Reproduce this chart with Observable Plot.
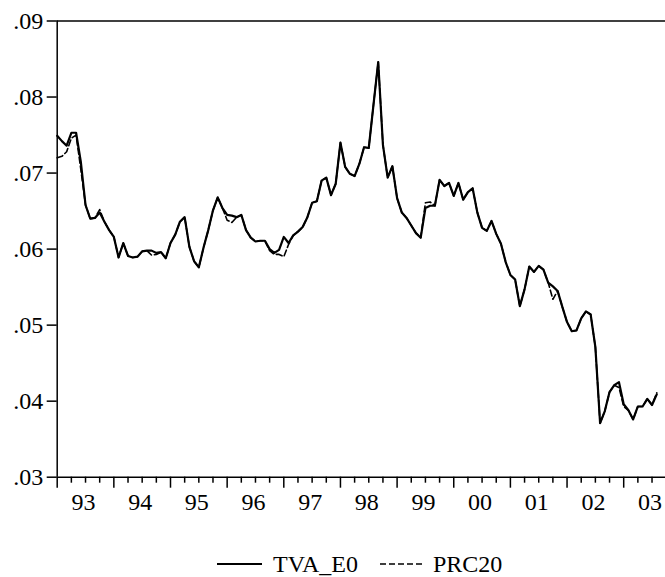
<!DOCTYPE html>
<html><head><meta charset="utf-8">
<script src="https://cdn.jsdelivr.net/npm/d3@7"></script>
<script src="https://cdn.jsdelivr.net/npm/@observablehq/plot@0.6"></script>
<style>
body{margin:0;background:#fff;}
#wrap{position:relative;width:665px;height:577px;background:#fff;font-family:"Liberation Serif","Times New Roman",serif;}
#legend{position:absolute;top:548px;left:217px;display:flex;align-items:center;font-size:24px;color:#000;line-height:32px;}
#legend svg{display:block;}
</style></head>
<body><div id="wrap"><div id="chart"></div><div id="legend"></div></div>
<script>
// Monthly series, 1993:01 – 2003:08
const startYear = 1993;
const seriesNames = ["TVA_E0", "PRC20"];
const tva = [
  0.0749,0.0742,0.0736,0.0753,0.0753,0.0715,0.0658,0.0640,0.0641,0.0648,0.0636,0.0625,
  0.0616,0.0589,0.0608,0.0591,0.0589,0.0590,0.0597,0.0598,0.0598,0.0595,0.0596,0.0588,
  0.0608,0.0619,0.0636,0.0642,0.0603,0.0584,0.0576,0.0602,0.0625,0.0651,0.0668,0.0654,
  0.0645,0.0644,0.0642,0.0645,0.0625,0.0615,0.0610,0.0611,0.0611,0.0600,0.0595,0.0599,
  0.0616,0.0608,0.0618,0.0623,0.0629,0.0642,0.0661,0.0663,0.0690,0.0694,0.0671,0.0686,
  0.0740,0.0708,0.0699,0.0696,0.0712,0.0734,0.0733,0.0790,0.0846,0.0737,0.0694,0.0709,
  0.0667,0.0648,0.0641,0.0631,0.0621,0.0615,0.0654,0.0657,0.0657,0.0691,0.0683,0.0687,
  0.0670,0.0687,0.0665,0.0675,0.0680,0.0648,0.0628,0.0624,0.0637,0.0620,0.0607,0.0583,
  0.0566,0.0560,0.0525,0.0547,0.0577,0.0570,0.0578,0.0573,0.0556,0.0551,0.0545,0.0524,
  0.0504,0.0492,0.0493,0.0509,0.0518,0.0514,0.0471,0.0371,0.0387,0.0412,0.0421,0.0425,
  0.0396,0.0388,0.0376,0.0393,0.0393,0.0403,0.0395,0.0409
];
const prc = [
  0.0720,0.0722,0.0728,0.0746,0.0750,0.0705,0.0658,0.0640,0.0641,0.0652,0.0636,0.0625,
  0.0616,0.0589,0.0608,0.0591,0.0589,0.0590,0.0597,0.0598,0.0592,0.0593,0.0596,0.0588,
  0.0608,0.0619,0.0636,0.0642,0.0603,0.0584,0.0576,0.0602,0.0625,0.0651,0.0668,0.0654,
  0.0638,0.0635,0.0642,0.0645,0.0625,0.0615,0.0610,0.0611,0.0611,0.0598,0.0593,0.0593,
  0.0590,0.0606,0.0618,0.0623,0.0629,0.0642,0.0661,0.0663,0.0690,0.0694,0.0671,0.0686,
  0.0740,0.0708,0.0699,0.0696,0.0712,0.0734,0.0733,0.0790,0.0846,0.0737,0.0694,0.0709,
  0.0667,0.0648,0.0641,0.0631,0.0621,0.0615,0.0661,0.0662,0.0657,0.0691,0.0683,0.0687,
  0.0670,0.0687,0.0665,0.0675,0.0680,0.0648,0.0628,0.0624,0.0637,0.0620,0.0607,0.0583,
  0.0566,0.0560,0.0525,0.0547,0.0577,0.0570,0.0578,0.0573,0.0556,0.0534,0.0545,0.0524,
  0.0504,0.0492,0.0493,0.0509,0.0518,0.0514,0.0471,0.0371,0.0387,0.0412,0.0421,0.0418,
  0.0393,0.0388,0.0376,0.0393,0.0393,0.0403,0.0395,0.0411
];
const yearLabels = ["93","94","95","96","97","98","99","00","01","02","03"];
const yTicks = [0.03, 0.04, 0.05, 0.06, 0.07, 0.08, 0.09];

const rows = tva.map((v, i) => ({t: startYear + i / 12, tva: v, prc: prc[i]}));
const yearStarts = yearLabels.map((_, i) => startYear + i);
const quarterTicks = d3.range(0, 43).map(q => startYear + q / 4).filter(q => q % 1 !== 0);
const xEnd = startYear + 608.3 / 56.65;
const serif = '"Liberation Serif","Times New Roman",serif';

const plot = Plot.plot({
  width: 665, height: 530,
  marginLeft: 56.7, marginRight: 0, marginTop: 20.5, marginBottom: 53.3,
  style: {fontFamily: serif, fontSize: "24px", color: "#000", background: "#fff", overflow: "visible"},
  x: {domain: [startYear, xEnd], label: null},
  y: {domain: [0.03, 0.09], label: null},
  marks: [
    Plot.axisY({ticks: yTicks, tickSize: 10, tickPadding: 4, strokeWidth: 1.5, fontSize: 24,
      tickFormat: d => "." + String(Math.round(d * 100)).padStart(2, "0")}),
    Plot.axisX({ticks: yearStarts, tickSize: 11, strokeWidth: 1.5, tickFormat: () => ""}),
    Plot.axisX({ticks: quarterTicks, tickSize: 6, strokeWidth: 1.5, tickFormat: () => ""}),
    Plot.axisX({ticks: yearStarts.map(y => y + 0.5), tickSize: 0, tickPadding: 16, dx: -2, fontSize: 24,
      tickFormat: d => yearLabels[Math.round(d - 0.5) - startYear]}),
    Plot.ruleY([0.03, 0.09], {strokeWidth: 1.5}),
    Plot.ruleX([startYear], {strokeWidth: 1.5}),
    Plot.lineY(rows, {x: "t", y: "prc", stroke: "#000", strokeWidth: 1.6, strokeDasharray: "6,3"}),
    Plot.lineY(rows, {x: "t", y: "tva", stroke: "#000", strokeWidth: 2.2})
  ]
});
document.getElementById("chart").append(plot);

// legend
const legend = document.getElementById("legend");
const styles = [{dash: null, w: 2, len: 45}, {dash: "6,3", w: 1.6, len: 42}];
seriesNames.forEach((name, i) => {
  const s = styles[i];
  const svg = d3.create("svg").attr("width", s.len).attr("height", 10)
    .style("margin-left", i ? "22px" : "0").style("margin-right", "11px");
  svg.append("line").attr("x1", 0).attr("x2", s.len).attr("y1", 5).attr("y2", 5)
    .attr("stroke", "#000").attr("stroke-width", s.w).attr("stroke-dasharray", s.dash);
  legend.append(svg.node());
  const span = document.createElement("span");
  span.textContent = name;
  legend.append(span);
});
</script>
</body></html>
